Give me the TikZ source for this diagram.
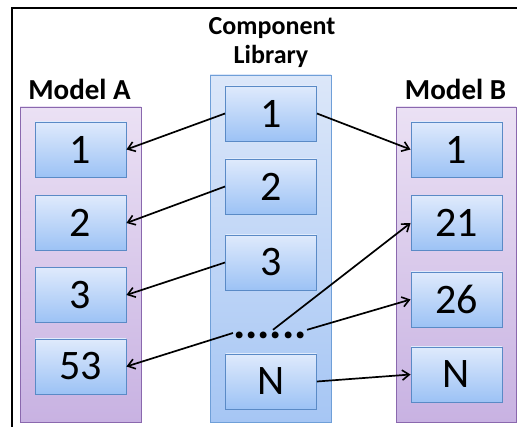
\documentclass[tikz,border=0pt]{standalone}
\usepackage{fontspec}
\setmainfont{Carlito}
\usetikzlibrary{arrows.meta}
\definecolor{boxtop}{HTML}{DFEAFC}
\definecolor{boxbot}{HTML}{9CC2F5}
\definecolor{boxline}{HTML}{5A8AC6}
\definecolor{libtop}{HTML}{DCE7F9}
\definecolor{libbot}{HTML}{A6C6F4}
\definecolor{libline}{HTML}{6F9FD8}
\definecolor{modtop}{HTML}{EBE1F4}
\definecolor{modbot}{HTML}{C8B2E2}
\definecolor{modline}{HTML}{8A68AE}
\tikzset{
  numbox/.style={draw=boxline, line width=0.9pt, top color=boxtop, bottom color=boxbot,
    minimum width=91pt, minimum height=55pt, inner sep=0pt,
    font=\fontsize{42}{42}\selectfont},
  libpanel/.style={draw=libline, line width=0.9pt, top color=libtop, bottom color=libbot},
  modpanel/.style={draw=modline, line width=0.9pt, top color=modtop, bottom color=modbot},
  paneltitle/.style={anchor=base, font=\fontsize{29}{29}\selectfont\bfseries},
  libtitle/.style={anchor=base, font=\fontsize{26}{26}\selectfont\bfseries},
  conn/.style={line width=1.7pt, -{Straight Barb[length=7pt,width=10pt,line width=1.6pt]}}
}
\begin{document}
\begin{tikzpicture}[x=1pt,y=-1pt]
\useasboundingbox (0,0) rectangle (517,427);
% outer frame
\draw[line width=2pt] (12,427) -- (12,8) -- (517,8);

% panels
\shade[modpanel] (20,107) rectangle (141,422);
\draw[modline, line width=0.9pt] (20,107) rectangle (141,422);
\shade[libpanel] (210,75) rectangle (331,422);
\draw[libline, line width=0.9pt] (210,75) rectangle (331,422);
\shade[modpanel] (396,107) rectangle (516,422);
\draw[modline, line width=0.9pt] (396,107) rectangle (516,422);

% titles
\node[paneltitle] (tA) at (79.5,100) {Model A};
\node[paneltitle] (tB) at (455.5,100) {Model B};
\node[libtitle] (tL1) at (272,35) {Component};
\node[libtitle] (tL2) at (271,64) {Library};

% Model A
\node[numbox] (a1) at (80.5,149.5) {1};
\node[numbox] (a2) at (80.5,223) {2};
\node[numbox] (a3) at (80.5,295) {3};
\node[numbox] (a53) at (80.5,366.5) {53};

% Component library
\node[numbox] (l1) at (271,113.5) {1};
\node[numbox] (l2) at (271,186.5) {2};
\node[numbox] (l3) at (271,262.5) {3};
\node[inner sep=0pt, minimum width=70pt, minimum height=16pt, font=\fontsize{46}{46}\selectfont\bfseries] (dots) at (270,336) {\raisebox{-3pt}[0pt][0pt]{......}};
\node[numbox] (ln) at (271,381.5) {N};

% Model B
\node[numbox] (b1) at (456.5,149.5) {1};
\node[numbox] (b21) at (456.5,223) {21};
\node[numbox] (b26) at (456.5,299.5) {26};
\node[numbox] (bn) at (456.5,374.5) {N};

% links
\draw[conn] ([yshift=3pt]dots.west) -- (a53.east);
\draw[conn] (l1.west) -- (a1.east);
\draw[conn] (l2.west) -- (a2.east);
\draw[conn] (l3.west) -- (a3.east);
\draw[conn] (l1.east) -- (b1.west);
\draw[conn] ([xshift=3pt,yshift=-2pt]dots.north) -- (b21.west);
\draw[conn] ([yshift=-2pt]dots.north east) -- (b26.west);
\draw[conn] (ln.east) -- (bn.west);
\end{tikzpicture}
\end{document}
